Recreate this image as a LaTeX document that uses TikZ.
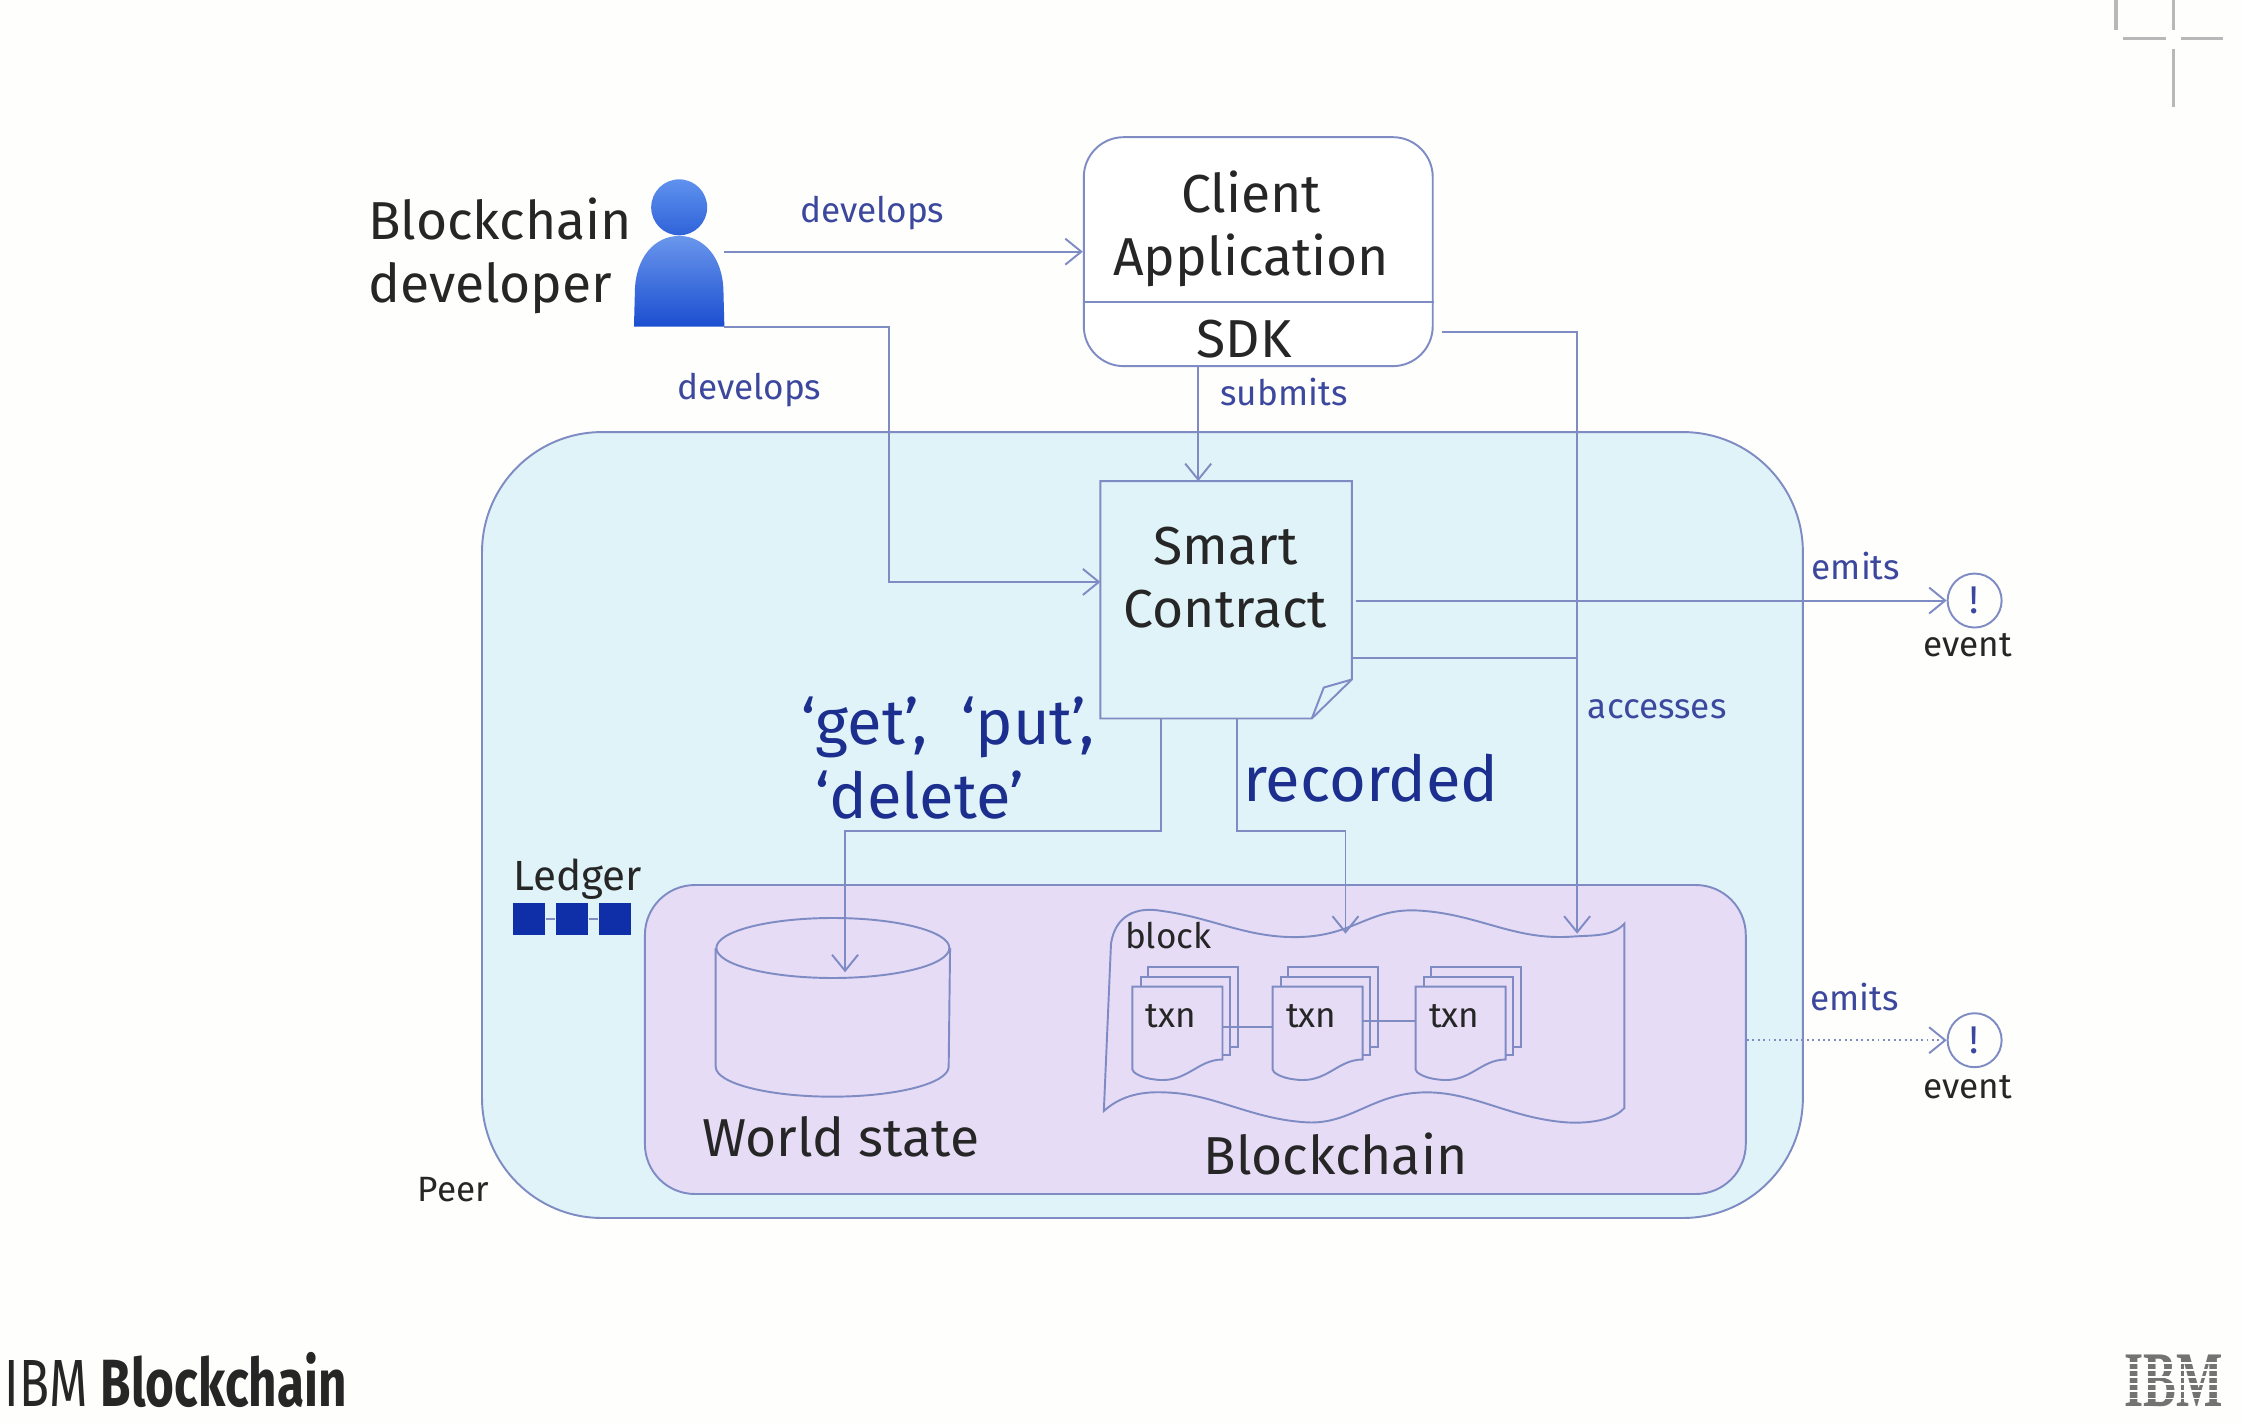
\documentclass[tikz,border=0pt]{standalone}
\usepackage{fontspec}
\setmainfont{Fira Sans}
\newfontfamily\logofont{Liberation Serif}
\usetikzlibrary{arrows.meta,positioning}
\definecolor{pagewhite}{HTML}{FEFEFC}
\definecolor{peerfill}{HTML}{DFF3F9}
\definecolor{ledgerfill}{HTML}{E6DCF6}
\definecolor{edgeblue}{HTML}{7F8CC4}
\definecolor{labelblue}{HTML}{3C489E}
\definecolor{bigblue}{HTML}{1C2E8E}
\definecolor{inkblack}{HTML}{262626}
\definecolor{squareblue}{HTML}{0F2FA8}
\definecolor{headtop}{HTML}{5F92EE}
\definecolor{headbottom}{HTML}{2F62D8}
\definecolor{bodytop}{HTML}{6A96EC}
\definecolor{bodybottom}{HTML}{1B4ED0}
\tikzset{
  edge/.style={draw=edgeblue, line width=0.55pt},
  flow/.style={edge, -{Straight Barb[length=1.6mm,width=2.6mm]}},
  bigtext/.style={text=inkblack, font=\fontsize{15.2}{18}\selectfont, align=center, inner sep=0},
  smalltext/.style={text=inkblack, font=\fontsize{10}{12}\selectfont, inner sep=0},
  action/.style={text=labelblue, font=\fontsize{10}{12}\selectfont, inner sep=0},
  bigaction/.style={text=bigblue, font=\fontsize{18}{21}\selectfont, inner sep=0},
  eventmark/.style={circle, edge, fill=pagewhite, minimum size=0.54cm, inner sep=0, text=labelblue, font=\fontsize{11}{12}\selectfont},
  ledgersquare/.style={fill=squareblue, minimum width=0.32cm, minimum height=0.32cm, inner sep=0},
  sheet/.style={edge, fill=ledgerfill},
  cornermark/.style={draw=black!28, line width=1pt},
  txnstack/.pic={
    \draw[sheet] (11,-14) rectangle (74,42);
    \draw[sheet] (6,-7) rectangle (68,48);
    \draw[sheet] (0,0) -- (63,0) -- (63,51) .. controls (45,51) and (38,68) .. (16,65) .. controls (6,64) and (0,60) .. (0,58) -- cycle;
    \node[minimum width=0.9cm, minimum height=0.93cm, inner sep=0] (-sheet) at (31.5,32.5) {};
    \node[smalltext] (-name) at (27,21) {txn};
  }
}
\begin{document}
\begin{tikzpicture}[x=0.143mm, y=-0.143mm]
      \path[use as bounding box, fill=pagewhite] (0,0) rectangle (1568,995);

      \draw (799,577) node [edge, fill=peerfill, rounded corners=1.2cm, minimum width=13.21cm, minimum height=7.86cm, inner sep=0] (peer) {};
      \draw (836,727) node [edge, fill=ledgerfill, rounded corners=0.5cm, minimum width=11.01cm, minimum height=3.09cm, inner sep=0] (ledger) {};
      \draw (880,176) node [edge, fill=white, rounded corners=0.4cm, minimum width=3.49cm, minimum height=2.29cm, inner sep=0] (client) {};
      \draw (client.west |- 0,211) coordinate (splitl) (client.east |- 0,211) coordinate (splitr);
      \draw[edge] (splitl) -- (splitr);
      \draw (875,160) node [bigtext] (clientname) {Client\\Application};
      \draw (870,237) node [bigtext] (sdk) {SDK};

      \draw (857.5,419.5) node [minimum width=2.5cm, minimum height=2.36cm, inner sep=0] (contract) {};
      \draw[edge, fill=peerfill] (contract.north west) -- (contract.north east) -- ([yshift=0.39cm]contract.south east) -- ([xshift=-0.4cm]contract.south east) -- (contract.south west) -- cycle;
      \draw[edge] ([yshift=0.39cm]contract.south east) -- ([xshift=-0.28cm,yshift=0.31cm]contract.south east) -- ([xshift=-0.4cm]contract.south east);
      \draw (857,404) node [bigtext] (contractname) {Smart\\Contract};

      \draw (475,196.5) node [minimum width=0.89cm, minimum height=0.9cm, inner sep=0] (devbody) {};
      \shade[top color=bodytop, bottom color=bodybottom] (devbody.south west) -- (444,205) .. controls (444,180) and (458,165) .. (475,165) .. controls (492,165) and (506,180) .. (506,205) -- (devbody.south east) -- cycle;
      \draw (475,145) node [circle, minimum size=0.56cm, inner sep=0, top color=headtop, bottom color=headbottom] (devhead) {};
      \draw (257,179) node [bigtext, anchor=west, align=left] (devname) {Blockchain\\developer};

      \draw (582.5,704.5) node [minimum width=2.33cm, minimum height=1.79cm, inner sep=0] (world) {};
      \draw[edge] (world.west |- 0,663) -- (world.west |- 0,746) arc[start angle=180, end angle=360, x radius=1.165cm, y radius=0.3cm] -- (world.east |- 0,663);
      \draw[edge] (world.center |- 0,663) ellipse [x radius=1.165cm, y radius=0.3cm];
      \draw (588,795) node [bigtext] (worldname) {World state};

      \draw[edge] (777,660) .. controls (780,640) and (795,634) .. (812,637) .. controls (850,642) and (875,658) .. (915,655) .. controls (950,652) and (960,634) .. (995,637) .. controls (1035,640) and (1060,658) .. (1100,655) .. controls (1115,654) and (1128,655) .. (1136,646) -- (1136,775) .. controls (1130,782) and (1115,786) .. (1096,785) .. controls (1055,782) and (1030,763) .. (995,764) .. controls (960,765) and (945,786) .. (915,785) .. controls (875,783) and (850,765) .. (815,764) .. controls (795,763) and (782,768) .. (772,777) -- cycle;
      \draw (817,654) node [smalltext] (blocklabel) {block};
      \draw (934,807) node [bigtext] (chainname) {Blockchain};
      \pic (txna) at (792,690) {txnstack};
      \pic (txnb) at (890,690) {txnstack};
      \pic (txnc) at (990,690) {txnstack};
      \draw[edge] ([yshift=0.06cm]txna-sheet.east) -- ([yshift=0.06cm]txnb-sheet.west);
      \draw[edge] ([yshift=0.12cm]txnb-sheet.east) -- ([yshift=0.12cm]txnc-sheet.west);

      \draw (370,642.5) node [ledgersquare] (squarea) {};
      \draw (400,642.5) node [ledgersquare] (squareb) {};
      \draw (430,642.5) node [ledgersquare] (squarec) {};
      \draw[edge] (squarea) -- (squareb);
      \draw[edge] (squareb) -- (squarec);
      \draw (404,615) node [text=inkblack, font=\fontsize{12}{14}\selectfont, inner sep=0] (ledgername) {Ledger};
      \draw (317,832) node [smalltext] (peername) {Peer};

      \draw (1381,420) node [eventmark] (eventa) {!};
      \draw (1381,727.5) node [eventmark] (eventb) {!};
      \draw (eventa.south) node [smalltext, anchor=north, xshift=-0.07cm, yshift=-0.04cm] (eventaname) {event};
      \draw (eventb.south) node [smalltext, anchor=north, xshift=-0.07cm, yshift=-0.07cm] (eventbname) {event};

      \coordinate (devturn) at (622,407);
      \coordinate (accessturn) at (1103,232);
      \coordinate (accessend) at (1103,653);
      \coordinate (accessjoin) at (1103,460);
      \coordinate (getturn) at (812,581);
      \coordinate (getend) at (591,680);
      \coordinate (recordturn) at (865,581);
      \coordinate (recordend) at (941,653);

      \draw[flow] (devbody.east |- client.west) -- (client.west);
      \draw[flow] (devbody.south east) -| (devturn) -- (contract.west |- devturn);
      \draw[flow] (client.south -| 838,0) -- (contract.north -| 838,0);
      \draw[flow, shorten <=0.8mm] (client.east |- accessturn) -- (accessturn) -- (accessend);
      \draw[edge] (contract.east |- accessjoin) -- (accessjoin);
      \draw[flow, shorten <=0.4mm] (contract.east |- eventa) -- (eventa.west);
      \draw[flow, densely dotted] (ledger.east |- eventb) -- (eventb.west);
      \draw[flow] (getturn |- contract.south) -- (getturn) -| (getend);
      \draw[flow] (recordturn |- contract.south) -- (recordturn) -| (recordend);

      \draw (610,149) node [action] (developsa) {develops};
      \draw (524,273) node [action] (developsb) {develops};
      \draw (898,274) node [action] (submits) {submits};
      \draw (1159,496) node [action] (accesses) {accesses};
      \draw (1298,396) node [action] (emitsa) {emits};
      \draw (1297,697) node [action] (emitsb) {emits};
      \draw (560,530) node [bigaction, anchor=west, align=left] (getput) {‘get’,\hspace{0.17cm} ‘put’,\\\hspace{0.14cm}‘delete’};
      \draw (869,544) node [bigaction, anchor=west] (recorded) {recorded};

      \draw (3,965) node [anchor=west, inner sep=0, xscale=0.74, text=black!85, font=\fontsize{19}{22}\selectfont] (brand) {IBM \textbf{Blockchain}};
      \draw (1520,966) node [inner sep=0, text=black!55, yscale=1.6, font=\logofont\bfseries\fontsize{14}{16}\selectfont] (logo) {IBM};
      \foreach \stripe in {953,958,963,968,973,978} {
        \draw[pagewhite, line width=0.5pt] (1480,\stripe) -- (1560,\stripe);
      }

      \draw[cornermark] (1480,0) -- (1480,21);
      \draw[cornermark] (1520,0) -- (1520,21);
      \draw[cornermark] (1485,27) -- (1515,27);
      \draw[cornermark] (1525,27) -- (1555,27);
      \draw[cornermark] (1520,34) -- (1520,75);
\end{tikzpicture}
\end{document}
